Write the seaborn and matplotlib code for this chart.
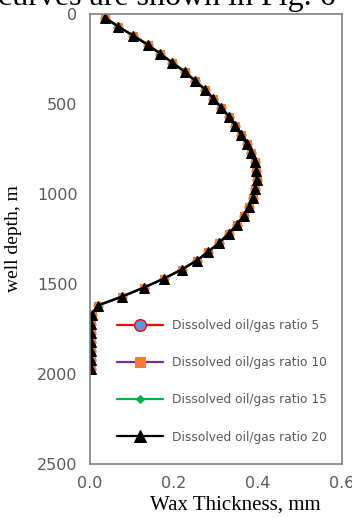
import matplotlib
matplotlib.use("Agg")
import matplotlib.pyplot as plt
import seaborn as sns
import pandas as pd

# ---- data ----
depth_m = [20, 70, 120, 170, 220, 270, 320, 370, 420, 470, 520, 570, 620, 670, 720,
           770, 820, 870, 920, 970, 1020, 1070, 1120, 1170, 1220, 1270, 1320, 1370,
           1420, 1470, 1520, 1570, 1620, 1670, 1720, 1770, 1820, 1870, 1920, 1970]
wax_ratio_5 = [0.036, 0.067, 0.103, 0.137, 0.167, 0.196, 0.225, 0.250, 0.274, 0.294,
               0.313, 0.331, 0.346, 0.360, 0.373, 0.384, 0.392, 0.396, 0.397, 0.394,
               0.388, 0.379, 0.366, 0.350, 0.330, 0.308, 0.282, 0.254, 0.218, 0.176,
               0.128, 0.076, 0.018, 0.004, 0.003, 0.002, 0.002, 0.002, 0.002, 0.002]
wax_ratio_10 = list(wax_ratio_5)
wax_ratio_15 = list(wax_ratio_5)
wax_ratio_20 = list(wax_ratio_5)
series_labels = ["Dissolved oil/gas ratio 5", "Dissolved oil/gas ratio 10",
                 "Dissolved oil/gas ratio 15", "Dissolved oil/gas ratio 20"]
y_ticks = [0, 500, 1000, 1500, 2000, 2500]
x_ticks = [0.0, 0.2, 0.4, 0.6]

W, H = 352, 518
fig = plt.figure(figsize=(W / 100, H / 100), dpi=100)
sns.set_style("white")
ax = fig.add_axes([90 / W, 1 - 464 / H, (342 - 90) / W, (464 - 14) / H])

styles = [
    dict(color="#FF0000", marker="o", markerfacecolor="#5B9BD5", markeredgecolor="#FF0000",
         markersize=6, markeredgewidth=1.0),
    dict(color="#7030A0", marker="s", markerfacecolor="#ED7D31", markeredgecolor="#ED7D31",
         markersize=5.5),
    dict(color="#00B050", marker="D", markerfacecolor="#00B050", markeredgecolor="#00B050",
         markersize=3),
    dict(color="#000000", marker="^", markerfacecolor="#000000", markeredgecolor="#000000",
         markersize=6.5),
]
all_series = [wax_ratio_5, wax_ratio_10, wax_ratio_15, wax_ratio_20]
for vals, lab, st in zip(all_series, series_labels, styles):
    df = pd.DataFrame({"depth": depth_m, "wax": vals})
    sns.lineplot(data=df, x="wax", y="depth", sort=False, estimator=None, ax=ax,
                 label=lab, linewidth=1.6, **st)

ax.set_xlim(0, 0.6)
ax.set_ylim(2500, 0)
ax.set_xticks(x_ticks)
ax.set_xticklabels([f"{v:.1f}" for v in x_ticks])
ax.set_yticks(y_ticks)
ax.set_yticklabels([str(v) for v in y_ticks])
for s in ax.spines.values():
    s.set_color("#808080")
    s.set_linewidth(1.2)
ax.tick_params(direction="in", length=5, width=1.0, color="#808080",
               labelcolor="#595959", labelsize=11.5, pad=9)

ax.set_xlabel("Wax Thickness, mm", family="Liberation Serif", fontsize=15, color="black")
ax.set_ylabel("well depth, m", family="Liberation Serif", fontsize=14, color="black")
ax.xaxis.set_label_coords(0.575, -0.071)
ax.yaxis.set_label_coords(-0.27, 0.5)

leg = ax.legend(loc="upper left", bbox_to_anchor=((117 - 90) / 252, (464 - 319) / 450),
                frameon=False, fontsize=8.8, labelspacing=1.98, handlelength=3.8,
                handletextpad=0.7, borderpad=0, borderaxespad=0, markerscale=1.4)
for t in leg.get_texts():
    t.set_color("#595959")

fig.text(-0.005, 1 - 5 / H, "curves are shown in Fig. 6", family="Liberation Serif",
         fontsize=23, va="baseline", ha="left", color="black")

fig.savefig("out.png", dpi=100)
